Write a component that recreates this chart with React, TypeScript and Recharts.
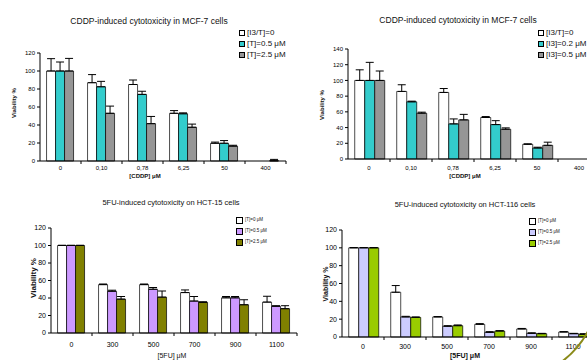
import React from "react";
import { BarChart, Bar, XAxis, YAxis, ErrorBar, Legend } from "recharts";

const cddpDoses = ["0", "0,10", "0,78", "6,25", "50", "400"];
const fuDoses = ["0", "300", "500", "700", "900", "1100"];

// MCF-7 + [T]
const mcfTNames = ["[I3/T]=0", "[T]=0.5 μM", "[T]=2.5 μM"];
const mcfTCtrl = [100, 87, 85, 53, 19.7, 0];
const mcfTCtrlErr = [13.7, 9, 5, 3, 1.3, 0];
const mcfTLow = [100, 82.5, 74, 52.5, 19.7, 0];
const mcfTLowErr = [10, 6, 3.5, 1, 3, 0];
const mcfTHigh = [100, 53, 41.5, 37.5, 16.5, 0.3];
const mcfTHighErr = [14, 8, 8, 3.5, 1, 1.5];

// MCF-7 + [I3]
const mcfI3Names = ["[I3/T]=0", "[I3]=0.2 μM", "[I3]=0.5 μM"];
const mcfI3Ctrl = [100, 86, 84.7, 52.8, 18.7, 0];
const mcfI3CtrlErr = [13.5, 8.5, 5, 1.2, 0.6, 0];
const mcfI3Low = [100, 72.8, 44.7, 43.8, 14, 0];
const mcfI3LowErr = [23, 0.8, 6.3, 5, 1, 0];
const mcfI3High = [100, 58.3, 49.8, 37.9, 17.4, 0];
const mcfI3HighErr = [12, 1.3, 7, 1.7, 4, 0];

// HCT-15
const hctNames = ["[T]=0 μM", "[T]=0.5 μM", "[T]=2.5 μM"];
const hct15Ctrl = [100, 55.3, 55.3, 46.2, 40.2, 35.3];
const hct15CtrlErr = [0.3, 0.7, 0.7, 3, 1.5, 6.7];
const hct15Mid = [100, 47.7, 50, 36.5, 40.2, 30.5];
const hct15MidErr = [0.3, 1.2, 2, 5.2, 1.5, 0.7];
const hct15High = [100, 38.7, 41, 35, 32.3, 27.8];
const hct15HighErr = [0.3, 3, 7, 0.7, 5.7, 3.4];

// HCT-116
const hct116Ctrl = [100, 50.2, 22.5, 14.2, 9, 5.6];
const hct116CtrlErr = [0.3, 7.5, 0.4, 0.8, 0.6, 0.4];
const hct116Mid = [100, 22.5, 12, 5.2, 4.1, 3.7];
const hct116MidErr = [0.3, 0.7, 0.7, 0.8, 0.6, 0.4];
const hct116High = [100, 22, 12.7, 6.7, 3.7, 3];
const hct116HighErr = [0.3, 0.5, 0.8, 0.4, 0.4, 0.7];

const yTicks120 = [0, 20, 40, 60, 80, 100, 120];
const yTicks140 = [0, 20, 40, 60, 80, 100, 120, 140];

const FONT = "'Liberation Sans', Arial, sans-serif";

const makeRows = (doses: string[], series: number[][], errs: number[][]) =>
  doses.map((d, i) => ({
    dose: d,
    s0: series[0][i],
    s1: series[1][i],
    s2: series[2][i],
    e0: [0, errs[0][i]],
    e1: [0, errs[1][i]],
    e2: [0, errs[2][i]],
  }));

const makeXTick = (band: number, fontSize: number, dy: number) => (props: any) => {
  const { x, y, payload } = props;
  return (
    <g>
      <line x1={x + band / 2} x2={x + band / 2} y1={y} y2={y + 3} stroke="#000" />
      <text x={x} y={y + dy} textAnchor="middle" fontSize={fontSize} fill="#000" fontFamily={FONT}>
        {payload.value}
      </text>
    </g>
  );
};

const makeLegend = (box: number, border: number, fontSize: number, rowGap: number) => (props: any) => (
  <div style={{ fontFamily: FONT }}>
    {(props.payload || []).map((p: any) => (
      <div key={p.value} style={{ display: "flex", alignItems: "center", height: rowGap }}>
        <span
          style={{
            display: "inline-block",
            width: box,
            height: box,
            boxSizing: "border-box",
            background: p.color,
            border: `${border}px solid #000`,
            marginRight: 2,
          }}
        />
        <span style={{ fontSize, color: "#111", whiteSpace: "nowrap", lineHeight: 1 }}>{p.value}</span>
      </div>
    ))}
  </div>
);

const Txt = ({ x, y, size, bold, rotate, children }: any) => (
  <div
    style={{
      position: "absolute",
      left: x,
      top: y,
      transform: `translate(-50%, -50%)${rotate ? " rotate(-90deg)" : ""}`,
      fontSize: size,
      fontWeight: bold ? "bold" : "normal",
      fontFamily: FONT,
      whiteSpace: "nowrap",
      lineHeight: 1,
      color: "#111",
    }}
  >
    {children}
  </div>
);

const Panel = ({ left, top, width, rows, names, colors, yMax, yTicks, margin, yWidth, xHeight, band, tickFont, xDy, legend, legendPos }: any) => (
  <div style={{ position: "absolute", left, top }}>
    <BarChart
      width={width}
      height={180}
      data={rows}
      margin={margin}
      barCategoryGap="16%"
      barGap={0}
    >
      <XAxis
        dataKey="dose"
        height={xHeight}
        axisLine={{ stroke: "#000" }}
        tickLine={false}
        tickSize={0}
        tickMargin={0}
        interval={0}
        tick={makeXTick(band, tickFont, xDy)}
      />
      <YAxis
        width={yWidth}
        domain={[0, yMax]}
        ticks={yTicks}
        interval={0}
        axisLine={{ stroke: "#000" }}
        tickLine={{ stroke: "#000" }}
        tickSize={3}
        tickMargin={2}
        tick={{ fontSize: tickFont, fill: "#000", fontFamily: FONT }}
      />
      <Legend
        layout="horizontal"
        verticalAlign="middle"
        align="center"
        wrapperStyle={{ left: legendPos[0], top: legendPos[1], width: "auto", height: "auto" }}
        content={legend}
      />
      {["s0", "s1", "s2"].map((k, i) => (
        <Bar
          key={k}
          dataKey={k}
          name={names[i]}
          fill={colors[i]}
          stroke="#000"
          strokeWidth={0.7}
          isAnimationActive={false}
        >
          <ErrorBar dataKey={`e${i}`} direction="y" width={4} stroke="#000" strokeWidth={1} />
        </Bar>
      ))}
    </BarChart>
  </div>
);

export default function App() {
  const rows1 = makeRows(cddpDoses, [mcfTCtrl, mcfTLow, mcfTHigh], [mcfTCtrlErr, mcfTLowErr, mcfTHighErr]);
  const rows2 = makeRows(cddpDoses, [mcfI3Ctrl, mcfI3Low, mcfI3High], [mcfI3CtrlErr, mcfI3LowErr, mcfI3HighErr]);
  const rows3 = makeRows(fuDoses, [hct15Ctrl, hct15Mid, hct15High], [hct15CtrlErr, hct15MidErr, hct15HighErr]);
  const rows4 = makeRows(fuDoses, [hct116Ctrl, hct116Mid, hct116High], [hct116CtrlErr, hct116MidErr, hct116HighErr]);

  const bigLegend = makeLegend(6, 1, 8, 11);
  const smallLegend = makeLegend(7, 1.5, 4.5, 11);

  return (
    <div
      style={{
        position: "absolute",
        left: 0,
        top: 0,
        width: 587,
        height: 360,
        overflow: "hidden",
        background: "#fff",
      }}
    >
      <Panel
        left={0}
        top={0}
        width={300}
        rows={rows1}
        names={mcfTNames}
        colors={["#FFFFFF", "#33CCCC", "#969696"]}
        yMax={120}
        yTicks={yTicks120}
        margin={{ top: 53, right: 14, bottom: 0, left: 0 }}
        yWidth={40}
        xHeight={19}
        band={41}
        tickFont={6}
        xDy={9}
        legend={bigLegend}
        legendPos={[239, 27]}
      />
      <Panel
        left={300}
        top={0}
        width={310}
        rows={rows2}
        names={mcfI3Names}
        colors={["#FFFFFF", "#33CCCC", "#969696"]}
        yMax={140}
        yTicks={yTicks140}
        margin={{ top: 49, right: 10, bottom: 0, left: 0 }}
        yWidth={48}
        xHeight={21}
        band={42}
        tickFont={6}
        xDy={11}
        legend={bigLegend}
        legendPos={[238, 27]}
      />
      <Panel
        left={0}
        top={180}
        width={300}
        rows={rows3}
        names={hctNames}
        colors={["#FFFFFF", "#CC99FF", "#808000"]}
        yMax={120}
        yTicks={yTicks120}
        margin={{ top: 48, right: 3, bottom: 0, left: 0 }}
        yWidth={51}
        xHeight={27}
        band={41}
        tickFont={7}
        xDy={14}
        legend={smallLegend}
        legendPos={[236, 35]}
      />
      <Panel
        left={300}
        top={180}
        width={300}
        rows={rows4}
        names={hctNames}
        colors={["#FFFFFF", "#CCCCFF", "#99CC00"]}
        yMax={120}
        yTicks={yTicks120}
        margin={{ top: 50, right: 6, bottom: 0, left: 0 }}
        yWidth={42}
        xHeight={23}
        band={42}
        tickFont={7}
        xDy={12}
        legend={smallLegend}
        legendPos={[229, 36]}
      />

      <Txt x={149} y={21} size={8.5}>CDDP-induced cytotoxicity in MCF-7 cells</Txt>
      <Txt x={458} y={20} size={8.5}>CDDP-induced cytotoxicity in MCF-7 cells</Txt>
      <Txt x={171} y={203} size={7.5}>5FU-induced cytotoxicity on HCT-15 cells</Txt>
      <Txt x={465} y={205} size={7.5}>5FU-induced cytotoxicity on HCT-116 cells</Txt>

      <Txt x={14} y={103} size={6} bold rotate>Viability %</Txt>
      <Txt x={322} y={105} size={6} bold rotate>Viability %</Txt>
      <Txt x={34} y={278} size={8} bold rotate>Viability %</Txt>
      <Txt x={325} y={284} size={7} bold rotate>Viability %</Txt>

      <Txt x={145} y={176} size={6} bold>[CDDP] μM</Txt>
      <Txt x={465} y={176} size={6} bold>[CDDP] μM</Txt>
      <Txt x={172} y={355} size={7}>[5FU] μM</Txt>
      <Txt x={465} y={355} size={7} bold>[5FU] μM</Txt>

      <svg width={587} height={360} style={{ position: "absolute", left: 0, top: 0, pointerEvents: "none" }}>
        <path d="M 591 325 Q 580 350 557 365" fill="none" stroke="#8B8B1A" strokeWidth={2} />
      </svg>
    </div>
  );
}
